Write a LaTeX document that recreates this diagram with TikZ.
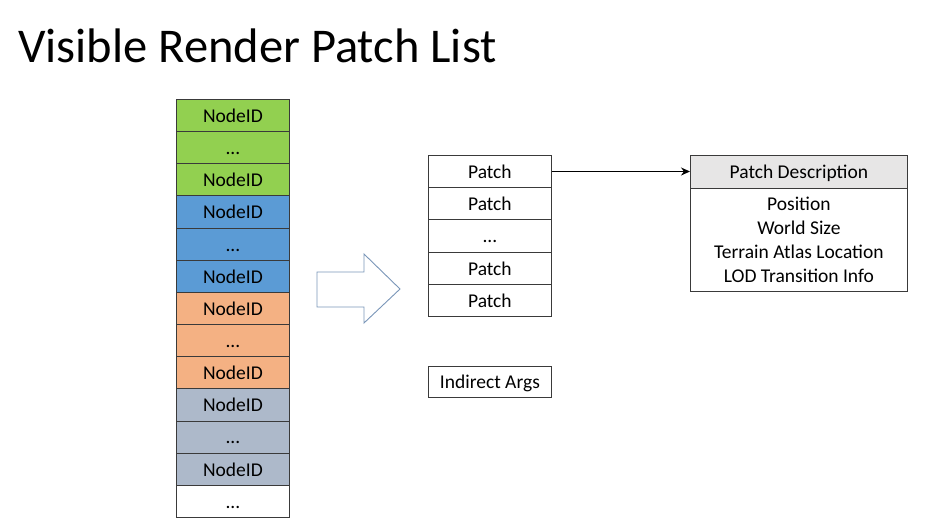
\documentclass[tikz,border=0pt]{standalone}
\usepackage{fontspec}
\setmainfont{Carlito}
\usetikzlibrary{arrows.meta}
\definecolor{cgreen}{HTML}{92D050}
\definecolor{cblue}{HTML}{5B9BD5}
\definecolor{corange}{HTML}{F4B183}
\definecolor{cgray}{HTML}{ADB9CA}
\definecolor{chead}{HTML}{E7E6E6}
\definecolor{cline}{HTML}{3A3A3A}
\definecolor{carrow}{HTML}{7A96B8}
\newcommand{\ellip}{...}
\begin{document}
\begin{tikzpicture}[x=1pt,y=-1pt,
  cellbox/.style={draw=cline,line width=0.8pt,minimum width=113pt,minimum height=32.15pt,inner sep=0pt,text height=14pt,text depth=0pt,anchor=north west,font=\fontsize{19.5}{22}\selectfont},
  patchbox/.style={draw=cline,line width=0.8pt,fill=white,minimum width=123pt,minimum height=32.2pt,inner sep=0pt,text height=14pt,text depth=0pt,anchor=north west,font=\fontsize{19.5}{22}\selectfont}]
\useasboundingbox (0,0) rectangle (935,530);
\node[anchor=base west,inner sep=0pt,font=\fontsize{48.5}{52}\selectfont] (title) at (18,62) {Visible Render Patch List};
% left column
\foreach \i/\c/\t in {0/cgreen/NodeID,1/cgreen/\ellip,2/cgreen/NodeID,3/cblue/NodeID,4/cblue/\ellip,5/cblue/NodeID,6/corange/NodeID,7/corange/\ellip,8/corange/NodeID,9/cgray/NodeID,10/cgray/\ellip,11/cgray/NodeID,12/white/\ellip}{
  \node[cellbox,fill=\c] (n\i) at (176,{99+\i*32.15}) {\t};
}
% big arrow
\draw[carrow,line width=0.9pt,line join=miter] (317,272) -- (364,272) -- (364,254) -- (400,289) -- (364,323) -- (364,307) -- (317,307) -- cycle;
% patch list
\foreach \i/\t in {0/Patch,1/Patch,2/\ellip,3/Patch,4/Patch}{
  \node[patchbox] (p\i) at (428,{155+\i*32.2}) {\t};
}
\node[patchbox,minimum height=31pt] (args) at (428,366) {Indirect Args};
% patch description
\node[draw=cline,line width=0.8pt,fill=chead,minimum width=217pt,minimum height=33pt,inner sep=0pt,text height=14pt,text depth=0pt,anchor=north west,font=\fontsize{19.5}{22}\selectfont] (ph) at (690,155) {Patch Description};
\node[draw=cline,line width=0.8pt,minimum width=217pt,minimum height=103pt,inner sep=0pt,anchor=north west,font=\fontsize{19.5}{24}\selectfont,align=center] (pb) at (690,188) {Position\\World Size\\Terrain Atlas Location\\LOD Transition Info};
\draw[-{Stealth[length=9pt,width=8pt]},line width=1.3pt] (p0.east) -- (p0.east -| ph.west);
\end{tikzpicture}
\end{document}
